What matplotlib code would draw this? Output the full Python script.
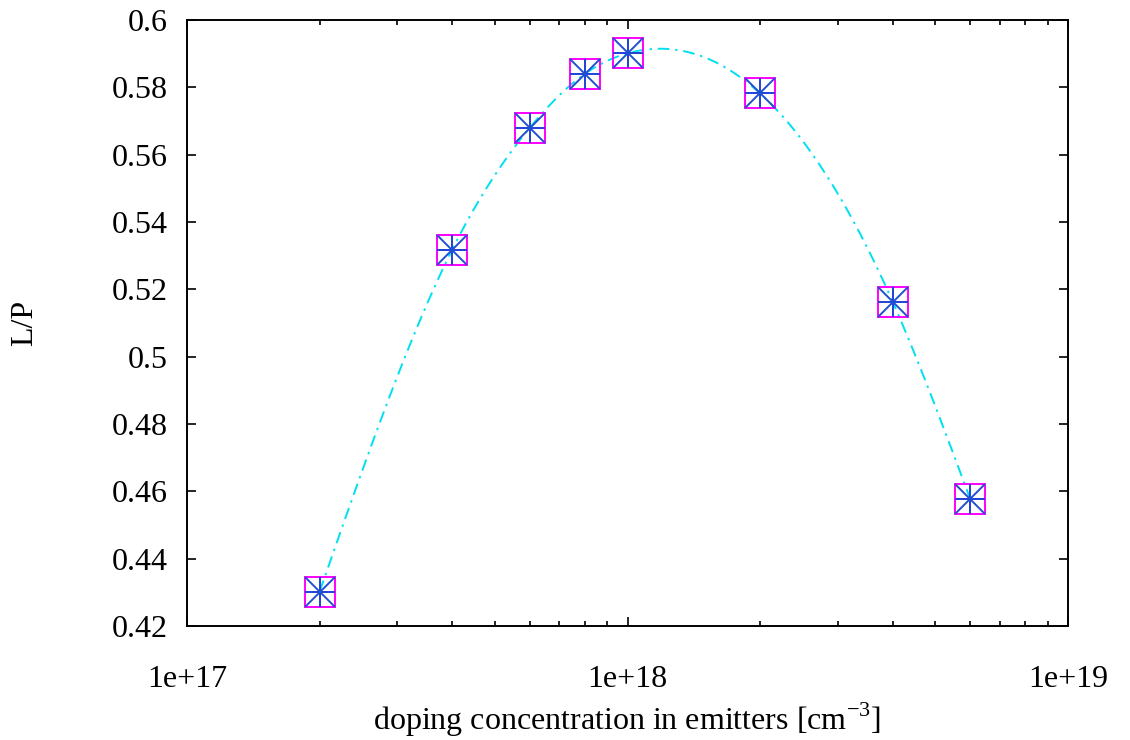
import numpy as np
import matplotlib
matplotlib.use('Agg')
import matplotlib.pyplot as plt
from matplotlib.ticker import FuncFormatter, LogLocator, NullFormatter

plt.rcParams['font.family'] = ['Liberation Serif', 'DejaVu Serif']
plt.rcParams['mathtext.fontset'] = 'custom'
plt.rcParams['mathtext.rm'] = 'Liberation Serif'

# data
doping = [2e17, 4e17, 6e17, 8e17, 1e18, 2e18, 4e18, 6e18]
lp = [0.4302, 0.5318, 0.5680, 0.5840, 0.5901, 0.5782, 0.5163, 0.4577]

yticks = [0.42, 0.44, 0.46, 0.48, 0.5, 0.52, 0.54, 0.56, 0.58, 0.6]
xticks = [1e17, 1e18, 1e19]
xticklabels = ['1e+17', '1e+18', '1e+19']


def csplines(x, y, n=300):
    # natural cubic spline, like gnuplot's "smooth csplines"
    x = np.asarray(x, float)
    y = np.asarray(y, float)
    m = len(x)
    h = np.diff(x)
    A = np.zeros((m, m))
    b = np.zeros(m)
    A[0, 0] = 1
    A[-1, -1] = 1
    for i in range(1, m - 1):
        A[i, i - 1] = h[i - 1]
        A[i, i] = 2 * (h[i - 1] + h[i])
        A[i, i + 1] = h[i]
        b[i] = 3 * ((y[i + 1] - y[i]) / h[i] - (y[i] - y[i - 1]) / h[i - 1])
    c = np.linalg.solve(A, b)
    xs = np.linspace(x[0], x[-1], n)
    idx = np.clip(np.searchsorted(x, xs) - 1, 0, m - 2)
    d = xs - x[idx]
    hi = h[idx]
    bb = (y[idx + 1] - y[idx]) / hi - hi * (2 * c[idx] + c[idx + 1]) / 3
    dd = (c[idx + 1] - c[idx]) / (3 * hi)
    ys = y[idx] + bb * d + c[idx] * d ** 2 + dd * d ** 3
    return xs, ys


fig = plt.figure(figsize=(11.3, 7.4), dpi=100)
fig.subplots_adjust(left=187 / 1130, right=1068 / 1130, top=1 - 20 / 740, bottom=1 - 626 / 740)
ax = fig.add_subplot(111)

lx, ly = csplines(np.log10(doping), lp)
ax.plot(10 ** lx, ly, color='#00e0f0', lw=1.4, dashes=(6, 3, 1.2, 3))

ax.plot(doping, lp, ls='none', marker='s', ms=21.5, mfc='none', mec='#ff00ff', mew=1.4)
ax.plot(doping, lp, ls='none', marker='+', ms=21.5, mec='#2040d8', mew=1.4)
ax.plot(doping, lp, ls='none', marker='x', ms=21.5, mec='#2050d0', mew=1.4)

ax.set_xscale('log')
ax.set_xlim(1e17, 1e19)
ax.set_ylim(0.42, 0.6)
ax.set_xticks(xticks)
ax.set_xticklabels(xticklabels)
ax.xaxis.set_minor_locator(LogLocator(base=10, subs=np.arange(2, 10)))
ax.xaxis.set_minor_formatter(NullFormatter())
ax.set_yticks(yticks)
ax.yaxis.set_major_formatter(FuncFormatter(lambda v, p: '%g' % v))

for s in ax.spines.values():
    s.set_linewidth(1.4)
ax.tick_params(which='both', direction='in', top=True, right=True, labelsize=23, width=1.2)
ax.tick_params(which='major', length=6.5)
ax.tick_params(which='minor', length=3.5)
ax.tick_params(axis='y', pad=14)
ax.tick_params(axis='x', pad=28)

ax.set_ylabel('L/P', fontsize=23, labelpad=52)
ax.set_xlabel(r'doping concentration in emitters [cm$^{\mathrm{-3}}$]', fontsize=23, labelpad=5)

fig.savefig('out.png', dpi=100)
